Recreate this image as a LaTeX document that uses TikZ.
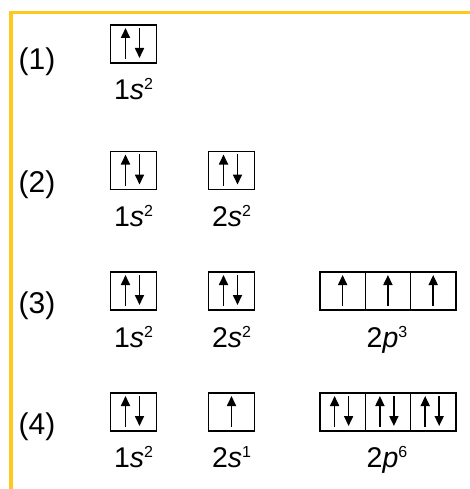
\documentclass[tikz,border=0pt]{standalone}
\usepackage{fontspec}
\setmainfont{Liberation Sans}
\usetikzlibrary{arrows.meta}
\definecolor{gold}{RGB}{255,200,30}
\newcommand\myup[1]{\raisebox{10pt}{\fontsize{16}{16}\selectfont #1}}
\newcommand\spinpair[1]{%
  \draw[spin] ([xshift=-8pt,yshift=4pt]#1.south) -- ([xshift=-8pt,yshift=-3pt]#1.north);
  \draw[spin] ([xshift=6pt,yshift=-3pt]#1.north) -- ([xshift=6pt,yshift=5pt]#1.south);}
\newcommand\spinup[1]{%
  \draw[spin] ([yshift=4pt]#1.south) -- ([yshift=-3pt]#1.north);}
\begin{document}
\begin{tikzpicture}[x=1pt,y=-1pt,
  orb/.style={draw, line width=1.5pt, minimum width=46pt, minimum height=38pt, inner sep=0pt, outer sep=0pt},
  cell/.style={draw, line width=1.5pt, minimum width=45.3pt, minimum height=38pt, inner sep=0pt, outer sep=0pt},
  rowlbl/.style={font=\fontsize{30}{34}\selectfont, inner sep=0pt, anchor=base},
  orblbl/.style={font=\fontsize{28.5}{34}\selectfont, inner sep=0pt, anchor=base},
  spin/.style={line width=1.7pt, -{Triangle[length=10pt,width=9pt]}},
  frame/.style={draw=gold, line width=3.5pt, line join=miter}
]
\useasboundingbox (0,0) rectangle (470,489);
\draw[frame] (10.8,489) -- (10.8,12.7) -- (470,12.7);

% Row 1
\node[rowlbl] (r1) at (37,70) {(1)};
\node[orb] (a1) at (133.5,44) {};
\spinpair{a1}
\node[orblbl] (la1) at (133.5,100) {1\textit{s}\myup{2}};

% Row 2
\node[rowlbl] (r2) at (37,192) {(2)};
\node[orb] (a2) at (133.5,170.5) {};
\spinpair{a2}
\node[orblbl] (la2) at (133.5,226) {1\textit{s}\myup{2}};
\node[orb] (b2) at (231.5,170.5) {};
\spinpair{b2}
\node[orblbl] (lb2) at (231.5,226) {2\textit{s}\myup{2}};

% Row 3
\node[rowlbl] (r3) at (37,313) {(3)};
\node[orb] (a3) at (133.5,291) {};
\spinpair{a3}
\node[orblbl] (la3) at (133.5,347) {1\textit{s}\myup{2}};
\node[orb] (b3) at (231.5,291) {};
\spinpair{b3}
\node[orblbl] (lb3) at (231.5,347) {2\textit{s}\myup{2}};
\node[cell] (c3a) at (342.6,291) {};
\node[cell] (c3b) at (387.9,291) {};
\node[cell] (c3c) at (433.2,291) {};
\spinup{c3a}\spinup{c3b}\spinup{c3c}
\node[orblbl] (lc3) at (387,347) {2\textit{p}\myup{3}};

% Row 4
\node[rowlbl] (r4) at (37,434) {(4)};
\node[orb] (a4) at (133.5,412) {};
\spinpair{a4}
\node[orblbl] (la4) at (133.5,467) {1\textit{s}\myup{2}};
\node[orb] (b4) at (231.5,412) {};
\spinup{b4}
\node[orblbl] (lb4) at (231.5,467) {2\textit{s}\myup{1}};
\node[cell] (c4a) at (342.6,412) {};
\node[cell] (c4b) at (387.9,412) {};
\node[cell] (c4c) at (433.2,412) {};
\spinpair{c4a}\spinpair{c4b}\spinpair{c4c}
\node[orblbl] (lc4) at (387,467) {2\textit{p}\myup{6}};
\end{tikzpicture}
\end{document}
